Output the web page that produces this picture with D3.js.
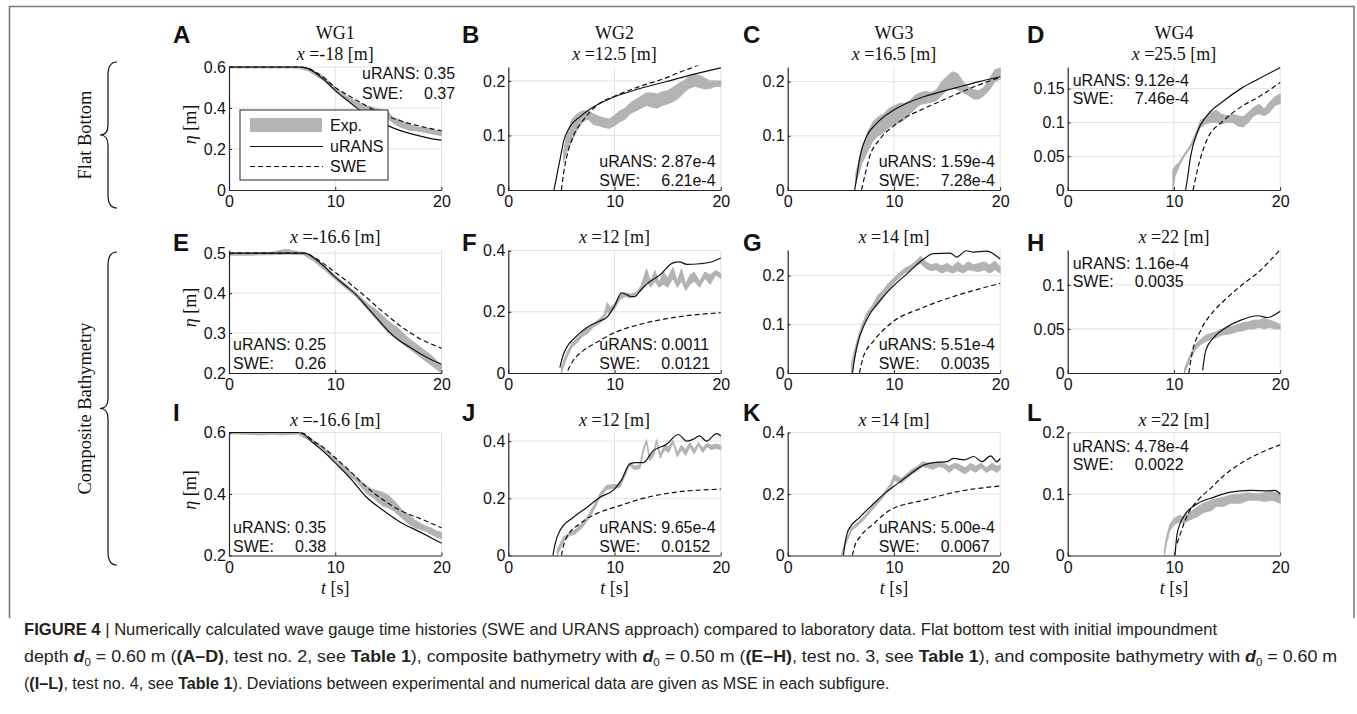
<!DOCTYPE html>
<html>
<head>
<meta charset="utf-8">
<script src="https://cdnjs.cloudflare.com/ajax/libs/d3/7.8.5/d3.min.js"></script>
<style>
  body { margin: 0; background: #fff; }
  svg { display: block; }
</style>
</head>
<body>
<svg width="1357" height="714"></svg>
<script>
// ---- values: [t, eta] for models, [t, low, high] for the lab band ----
const aUrans = [[0,0.6],[6.5,0.6],[7,0.598],[7.5,0.59],[8,0.576],[9,0.535],[10,0.486],[11,0.443],[12,0.402],[13,0.365],[14,0.337],[15,0.313],[16,0.292],[17,0.276],[18,0.263],[19,0.251],[20,0.243]];
const aSwe = [[0,0.6],[6.5,0.6],[7,0.598],[7.5,0.592],[8,0.58],[9,0.545],[10,0.5],[11,0.468],[12,0.438],[13,0.408],[14,0.381],[15,0.359],[16,0.34],[17,0.324],[18,0.311],[19,0.299],[20,0.289]];
const aExp = [[0,0.595,0.602],[6.5,0.595,0.602],[7.5,0.58,0.595],[9,0.53,0.55],[10,0.48,0.5],[11,0.44,0.46],[12,0.41,0.43],[12.5,0.39,0.42],[13,0.38,0.41],[13.5,0.375,0.405],[14,0.37,0.395],[14.5,0.355,0.39],[15,0.345,0.38],[15.5,0.325,0.35],[16,0.31,0.345],[16.5,0.3,0.33],[17,0.29,0.32],[17.5,0.29,0.31],[18,0.285,0.305],[18.5,0.28,0.3],[19,0.275,0.3],[19.5,0.27,0.29],[20,0.265,0.285]];

const bUrans = [[4.3,0],[4.6,0.03],[4.86,0.055],[5.23,0.091],[5.8,0.116],[6.74,0.134],[8,0.152],[10,0.171],[12.4,0.186],[14.9,0.199],[17.4,0.212],[20,0.224]];
const bSwe = [[5,0],[5.2,0.03],[5.5,0.061],[6.1,0.098],[7.05,0.128],[8.6,0.159],[10,0.172],[12.4,0.19],[14.9,0.206],[16,0.215],[17,0.222],[18,0.23]];
const bExp = [[5.2,0.05,0.07],[5.5,0.07,0.1],[6,0.09,0.13],[6.5,0.11,0.14],[7,0.125,0.145],[7.5,0.13,0.145],[8,0.12,0.14],[8.5,0.118,0.135],[9,0.115,0.132],[9.5,0.113,0.13],[10,0.118,0.137],[10.5,0.125,0.145],[11,0.13,0.15],[11.5,0.14,0.16],[12,0.145,0.166],[12.5,0.15,0.172],[13,0.155,0.178],[13.5,0.152,0.178],[14,0.15,0.176],[14.5,0.155,0.18],[15,0.158,0.182],[15.5,0.162,0.188],[16,0.168,0.195],[16.5,0.178,0.2],[17,0.186,0.208],[17.5,0.19,0.212],[18,0.188,0.21],[18.5,0.185,0.205],[19,0.186,0.2],[19.5,0.19,0.2],[20,0.19,0.2]];

const cUrans = [[6.3,0],[6.55,0.03],[6.8,0.061],[7.4,0.098],[8.37,0.123],[9.94,0.147],[11.2,0.16],[12.8,0.172],[15.9,0.189],[18,0.2],[20,0.209]];
const cSwe = [[6.95,0],[7.3,0.03],[7.7,0.061],[8.6,0.092],[9.9,0.117],[11.2,0.135],[12.8,0.15],[15.9,0.177],[18,0.194],[20,0.208]];
const cExp = [[6.4,0.01,0.03],[7,0.05,0.08],[7.5,0.07,0.105],[8,0.09,0.125],[8.5,0.1,0.135],[9,0.105,0.14],[9.5,0.115,0.15],[10,0.12,0.155],[10.5,0.125,0.16],[11,0.13,0.16],[11.5,0.14,0.165],[12,0.15,0.175],[12.5,0.158,0.18],[13,0.16,0.182],[13.5,0.162,0.18],[14,0.165,0.185],[14.5,0.175,0.2],[15,0.185,0.21],[15.5,0.19,0.218],[16,0.185,0.215],[16.5,0.18,0.2],[17,0.175,0.19],[17.5,0.168,0.185],[18,0.168,0.183],[18.5,0.175,0.19],[19,0.185,0.205],[19.5,0.2,0.222],[20,0.205,0.225]];

const dUrans = [[11.1,0],[11.3,0.02],[11.56,0.049],[12.2,0.086],[13.1,0.11],[14.7,0.132],[16.3,0.15],[17.9,0.164],[20,0.181]];
const dSwe = [[11.8,0],[12,0.015],[12.2,0.029],[13.1,0.074],[14.7,0.103],[16.3,0.123],[17.9,0.137],[20,0.159]];
const dExp = [[9.9,0,0.03],[10.1,0.02,0.035],[10.5,0.036,0.041],[11,0.05,0.054],[11.5,0.061,0.065],[12,0.076,0.082],[12.5,0.093,0.103],[13,0.098,0.108],[13.5,0.1,0.115],[14,0.1,0.118],[14.5,0.098,0.112],[15,0.1,0.11],[15.5,0.1,0.112],[16,0.095,0.11],[16.5,0.093,0.108],[17,0.1,0.115],[17.5,0.11,0.122],[18,0.113,0.127],[18.5,0.11,0.12],[19,0.115,0.13],[19.5,0.125,0.138],[20,0.128,0.142]];

const eUrans = [[0,0.5],[7,0.5],[7.5,0.497],[8,0.488],[9,0.466],[10,0.44],[11,0.418],[12,0.395],[13,0.365],[14,0.335],[15,0.305],[16,0.282],[17,0.265],[18,0.248],[19,0.234],[20,0.222]];
const eSwe = [[0,0.5],[7,0.5],[7.5,0.497],[8,0.49],[9,0.472],[10,0.452],[11,0.432],[12,0.41],[13,0.388],[14,0.364],[15,0.342],[16,0.32],[17,0.302],[18,0.285],[19,0.273],[20,0.262]];
const eExp = [[0,0.495,0.5],[1,0.495,0.5],[2,0.495,0.501],[3,0.496,0.502],[4,0.496,0.502],[5,0.497,0.508],[5.5,0.498,0.51],[6,0.497,0.506],[7,0.496,0.502],[8,0.48,0.49],[9,0.458,0.468],[10,0.434,0.444],[11,0.412,0.422],[12,0.39,0.4],[13,0.36,0.375],[14,0.33,0.355],[15,0.3,0.33],[16,0.28,0.31],[17,0.26,0.285],[18,0.24,0.265],[19,0.22,0.245],[20,0.2,0.22]];

const fUrans = [[4.85,0.018],[5.2,0.062],[5.6,0.09],[6.1,0.11],[7.4,0.149],[8.6,0.17],[9.25,0.181],[10,0.219],[10.66,0.262],[11.1,0.257],[11.5,0.25],[11.9,0.25],[12.4,0.268],[13,0.29],[14.26,0.32],[15.5,0.36],[16.1,0.363],[16.8,0.355],[18,0.357],[19,0.362],[20,0.376]];
const fSwe = [[5.6,0.008],[6.1,0.04],[7.05,0.073],[8.3,0.1],[10,0.132],[12.4,0.159],[15.5,0.181],[20,0.197]];
const fExp = [[5,0,0.02],[5.5,0.05,0.065],[6,0.085,0.1],[6.5,0.1,0.115],[7,0.12,0.135],[7.5,0.13,0.148],[8,0.15,0.16],[8.5,0.16,0.175],[9,0.175,0.19],[9.3,0.2,0.23],[9.6,0.195,0.215],[10,0.21,0.225],[10.5,0.24,0.255],[11,0.25,0.262],[11.5,0.245,0.258],[12,0.25,0.262],[12.5,0.27,0.285],[13,0.3,0.34],[13.4,0.28,0.3],[13.8,0.3,0.335],[14.2,0.28,0.295],[14.6,0.29,0.33],[15,0.28,0.31],[15.5,0.31,0.345],[15.9,0.28,0.3],[16.3,0.3,0.34],[16.7,0.27,0.29],[17.1,0.29,0.32],[17.5,0.3,0.33],[18,0.28,0.3],[18.5,0.31,0.33],[19,0.29,0.32],[19.5,0.32,0.335],[20,0.31,0.325]];

const gUrans = [[6.1,0],[6.3,0.03],[6.5,0.053],[7.4,0.108],[8.7,0.149],[10,0.18],[11.2,0.203],[12.8,0.234],[13.7,0.245],[15.3,0.246],[15.9,0.238],[16.8,0.251],[17.5,0.248],[18.7,0.25],[20,0.234]];
const gSwe = [[6.75,0],[7.1,0.032],[8.1,0.066],[9.6,0.1],[12.8,0.135],[15.9,0.159],[20,0.184]];
const gExp = [[6,0,0.02],[6.5,0.05,0.065],[7,0.09,0.1],[7.5,0.115,0.125],[8,0.13,0.14],[8.5,0.14,0.16],[9,0.155,0.17],[9.5,0.17,0.185],[10,0.185,0.195],[10.5,0.195,0.205],[11,0.205,0.215],[11.5,0.21,0.22],[12,0.22,0.228],[12.5,0.225,0.24],[13,0.215,0.228],[13.5,0.21,0.222],[14,0.212,0.225],[14.5,0.205,0.22],[15,0.21,0.225],[15.5,0.205,0.218],[16,0.21,0.228],[16.5,0.205,0.22],[17,0.212,0.228],[17.5,0.21,0.222],[18,0.208,0.225],[18.5,0.212,0.228],[19,0.205,0.222],[19.5,0.212,0.23],[20,0.205,0.218]];

const hUrans = [[12.7,0.003],[13,0.026],[13.8,0.041],[14.7,0.05],[16.3,0.06],[17.9,0.065],[18.8,0.063],[20,0.07]];
const hSwe = [[11.4,0],[11.7,0.022],[12.5,0.048],[13.8,0.071],[14.7,0.082],[16.3,0.099],[17.9,0.114],[20,0.14]];
const hExp = [[11,0,0.005],[11.5,0.015,0.02],[12,0.026,0.032],[12.5,0.032,0.038],[13,0.036,0.043],[13.5,0.038,0.045],[14,0.04,0.047],[14.5,0.043,0.05],[15,0.044,0.052],[15.5,0.045,0.053],[16,0.047,0.055],[16.5,0.048,0.057],[17,0.05,0.058],[17.5,0.05,0.06],[18,0.052,0.06],[18.5,0.05,0.062],[19,0.052,0.06],[19.5,0.05,0.058],[20,0.05,0.055]];

const iUrans = [[0,0.6],[6.5,0.6],[7,0.595],[7.9,0.567],[9,0.535],[10,0.501],[11.4,0.452],[12.9,0.391],[14.5,0.347],[16.1,0.309],[18,0.276],[20,0.24]];
const iSwe = [[0,0.6],[6.5,0.6],[7,0.597],[7.9,0.573],[9,0.548],[10,0.518],[11.4,0.474],[12.9,0.424],[14.5,0.381],[16.1,0.347],[18,0.32],[20,0.29]];
const iExp = [[0,0.596,0.6],[2,0.594,0.6],[3,0.592,0.6],[4,0.594,0.6],[5,0.592,0.6],[6,0.594,0.6],[6.5,0.595,0.6],[7.5,0.575,0.585],[8.5,0.55,0.562],[10,0.505,0.515],[11,0.47,0.485],[12,0.44,0.455],[12.5,0.42,0.44],[13,0.4,0.425],[13.5,0.39,0.415],[14,0.375,0.41],[14.5,0.36,0.405],[15,0.355,0.395],[15.5,0.345,0.38],[16,0.33,0.36],[16.5,0.315,0.34],[17,0.3,0.33],[17.5,0.29,0.315],[18,0.285,0.305],[18.5,0.28,0.295],[19,0.27,0.29],[19.5,0.26,0.28],[20,0.255,0.275]];

const jUrans = [[4.2,0],[4.4,0.04],[4.86,0.087],[6.1,0.133],[7.4,0.168],[8.6,0.203],[10,0.232],[10.7,0.267],[11.4,0.319],[11.9,0.325],[12.7,0.325],[13.6,0.365],[14.9,0.389],[16,0.423],[16.8,0.4],[17.4,0.406],[18,0.418],[18.65,0.4],[19.6,0.426],[20,0.418]];
const jSwe = [[5,0],[5.2,0.035],[5.5,0.064],[6.7,0.11],[8.6,0.151],[10,0.168],[12.4,0.197],[15.5,0.22],[20,0.232]];
const jExp = [[4.6,0,0.02],[5.2,0.05,0.065],[5.8,0.07,0.08],[6.3,0.075,0.09],[7,0.1,0.115],[7.6,0.13,0.145],[8.2,0.17,0.185],[8.6,0.2,0.215],[9.25,0.232,0.245],[10,0.235,0.248],[10.5,0.238,0.25],[11,0.28,0.295],[11.4,0.315,0.325],[11.9,0.3,0.312],[12.4,0.305,0.318],[12.7,0.36,0.375],[13,0.398,0.405],[13.3,0.33,0.345],[13.7,0.35,0.365],[13.95,0.395,0.405],[14.3,0.34,0.355],[14.7,0.37,0.385],[15.1,0.36,0.38],[15.5,0.395,0.402],[15.9,0.345,0.36],[16.3,0.37,0.385],[16.7,0.35,0.37],[17.1,0.38,0.395],[17.5,0.355,0.37],[17.9,0.385,0.395],[18.3,0.36,0.375],[18.7,0.38,0.392],[19.1,0.37,0.385],[19.5,0.375,0.39],[20,0.37,0.385]];

const kUrans = [[5.24,0],[5.4,0.04],[5.7,0.082],[6.8,0.125],[8.1,0.169],[9.3,0.207],[10,0.225],[11.2,0.256],[12.8,0.294],[13.7,0.302],[15,0.305],[15.6,0.316],[16.6,0.311],[17.5,0.322],[18.3,0.305],[19.1,0.324],[19.7,0.305],[20,0.316]];
const kSwe = [[6.09,0],[6.3,0.03],[6.8,0.06],[8.1,0.104],[9.6,0.147],[12.8,0.18],[15.9,0.207],[20,0.226]];
const kExp = [[5.1,0,0.01],[5.5,0.04,0.05],[6,0.08,0.09],[7,0.11,0.12],[8,0.15,0.16],[9,0.19,0.2],[9.7,0.22,0.235],[10,0.245,0.262],[10.3,0.24,0.258],[10.7,0.235,0.25],[11.2,0.25,0.265],[11.7,0.265,0.28],[12.2,0.275,0.29],[12.7,0.29,0.305],[13.2,0.285,0.3],[13.7,0.28,0.3],[14.2,0.29,0.305],[14.7,0.285,0.3],[15.2,0.27,0.29],[15.7,0.285,0.3],[16.2,0.275,0.295],[16.7,0.265,0.285],[17.2,0.28,0.3],[17.7,0.27,0.29],[18.2,0.285,0.3],[18.7,0.27,0.285],[19.2,0.28,0.3],[19.7,0.27,0.29],[20,0.28,0.295]];

const lUrans = [[10.1,0],[10.3,0.035],[10.9,0.063],[12.2,0.084],[13.8,0.095],[15.3,0.103],[17.2,0.106],[18.8,0.105],[19.5,0.106],[20,0.1]];
const lSwe = [[10.3,0.02],[10.5,0.03],[10.9,0.05],[11.4,0.07],[12.2,0.089],[13.5,0.11],[14.7,0.13],[16.3,0.15],[17.9,0.165],[20,0.18]];
const lExp = [[9.1,0,0.01],[9.3,0.02,0.03],[9.6,0.04,0.05],[10,0.05,0.06],[10.5,0.055,0.065],[10.9,0.052,0.063],[11.5,0.058,0.07],[12.2,0.063,0.079],[12.8,0.07,0.085],[13.5,0.073,0.09],[14,0.08,0.092],[14.7,0.08,0.095],[15.3,0.085,0.098],[16.3,0.085,0.1],[17,0.09,0.102],[17.9,0.09,0.1],[18.5,0.088,0.102],[19.2,0.09,0.104],[20,0.085,0.1]];

// axis ranges and tick labels
const xTicks = [0, 10, 20];
const yDomains = [[0,0.6],[0,0.2255],[0,0.227],[0,0.182],[0.2,0.508],[0,0.402],[0,0.2525],[0,0.1396],[0.2,0.6],[0,0.43],[0,0.4],[0,0.2]];
const yTickSets = [[0,0.2,0.4,0.6],[0,0.1,0.2],[0,0.1,0.2],[0,0.05,0.1,0.15],[0.2,0.3,0.4,0.5],[0,0.2,0.4],[0,0.1,0.2],[0,0.05,0.1],[0.2,0.4,0.6],[0,0.2,0.4],[0,0.2,0.4],[0,0.1,0.2]];

const letters = ["A","B","C","D","E","F","G","H","I","J","K","L"];
const gauges = ["WG1","WG2","WG3","WG4"];
const gaugeX = ["-18","12.5","16.5","25.5","-16.6","12","14","22","-16.6","12","14","22"];
const mseRans = ["0.35","2.87e-4","1.59e-4","9.12e-4","0.25","0.0011","5.51e-4","1.16e-4","0.35","9.65e-4","5.00e-4","4.78e-4"];
const mseSwe = ["0.37","6.21e-4","7.28e-4","7.46e-4","0.26","0.0121","0.0035","0.0035","0.38","0.0152","0.0067","0.0022"];
const rowNames = ["Flat Bottom", "Composite Bathymetry"];

const ransSets = [aUrans,bUrans,cUrans,dUrans,eUrans,fUrans,gUrans,hUrans,iUrans,jUrans,kUrans,lUrans];
const sweSets = [aSwe,bSwe,cSwe,dSwe,eSwe,fSwe,gSwe,hSwe,iSwe,jSwe,kSwe,lSwe];
const expSets = [aExp,bExp,cExp,dExp,eExp,fExp,gExp,hExp,iExp,jExp,kExp,lExp];

// ---- layout ----
const colLeft = [229, 508.3, 787.7, 1067.7];
const axW = 212.5;
const rowTop = [67, 250, 432.5];
const axH = 123;
const letterX = [173, 462, 743, 1027];
const letterBase = [43, 251, 421];
// where the MSE note sits: dx from left, first/second baseline from top
const msePlace = ["tr","br","br","tl","bl","br","br","tl","bl","br","br","tl"];
const mseOffsets = { tr:[133,12,31.5], br:[91,100,119], tl:[5,19,37], bl:[4,100,119] };

const sans = '"Liberation Sans", Arial, Helvetica, sans-serif';
const serif = '"Liberation Serif", "Times New Roman", Times, serif';
const axisColor = "#262626";
const expColor = "#b3b3b3";
const fmt = d3.format("~g");

const svg = d3.select("svg");

// outer frame (no bottom edge visible)
svg.append("path")
  .attr("d", "M9.5,618V6.5H1354V618")
  .attr("fill", "none")
  .attr("stroke", "#7a7a7a")
  .attr("stroke-width", 1.6);

letters.forEach((letter, i) => {
  const col = i % 4, row = Math.floor(i / 4);
  const left = colLeft[col], top = rowTop[row];
  const x = d3.scaleLinear().domain([0, 20]).range([left, left + axW]);
  const y = d3.scaleLinear().domain(yDomains[i]).range([top + axH, top]);
  const g = svg.append("g");

  // grid
  g.selectAll(".gx").data(xTicks.slice(1)).join("line")
    .attr("x1", d => x(d)).attr("x2", d => x(d))
    .attr("y1", top).attr("y2", top + axH)
    .attr("stroke", "#e2e2e2").attr("stroke-width", 1);
  g.selectAll(".gy").data(yTickSets[i].filter(v => v > yDomains[i][0])).join("line")
    .attr("x1", left).attr("x2", left + axW)
    .attr("y1", d => y(d)).attr("y2", d => y(d))
    .attr("stroke", "#e2e2e2").attr("stroke-width", 1);

  const clipId = "clip" + i;
  svg.append("clipPath").attr("id", clipId).append("rect")
    .attr("x", left).attr("y", top - 1.5).attr("width", axW + 1.5).attr("height", axH + 1.5);
  const plot = g.append("g").attr("clip-path", `url(#${clipId})`);

  const area = d3.area().x(d => x(d[0])).y0(d => y(d[1])).y1(d => y(d[2]));
  const line = d3.line().x(d => x(d[0])).y(d => y(d[1])).curve(d3.curveMonotoneX);

  plot.append("path").datum(expSets[i])
    .attr("d", area)
    .attr("fill", expColor).attr("stroke", expColor).attr("stroke-width", 1);
  plot.append("path").datum(sweSets[i])
    .attr("d", line)
    .attr("fill", "none").attr("stroke", "#111").attr("stroke-width", 1.2)
    .attr("stroke-dasharray", "5,3");
  plot.append("path").datum(ransSets[i])
    .attr("d", line)
    .attr("fill", "none").attr("stroke", "#111").attr("stroke-width", 1.2);

  // axes (box off, inward ticks)
  const xAxis = g.append("g").attr("transform", `translate(0,${top + axH})`)
    .call(d3.axisBottom(x).tickValues(xTicks).tickSize(-3).tickSizeOuter(0).tickPadding(6));
  const yAxis = g.append("g").attr("transform", `translate(${left},0)`)
    .call(d3.axisLeft(y).tickValues(yTickSets[i]).tickFormat(fmt).tickSize(-3).tickSizeOuter(0).tickPadding(3));
  [xAxis, yAxis].forEach(ax => {
    ax.attr("font-size", 16).attr("font-family", sans);
    ax.select(".domain").attr("stroke", axisColor).attr("stroke-width", 1.2);
    ax.selectAll(".tick line").attr("stroke", axisColor);
    ax.selectAll(".tick text").attr("fill", "#111");
  });

  // titles
  if (row === 0) {
    svg.append("text").attr("x", left + axW / 2).attr("y", top - 28)
      .attr("text-anchor", "middle").attr("font-family", serif).attr("font-size", 18)
      .attr("fill", "#111").text(gauges[col]);
  }
  const tt = svg.append("text").attr("x", left + axW / 2).attr("y", top - 7)
    .attr("text-anchor", "middle").attr("font-family", serif).attr("font-size", 18).attr("fill", "#111");
  tt.append("tspan").attr("font-style", "italic").text("x");
  tt.append("tspan").text(" =" + gaugeX[i] + " [m]");

  // panel letter
  svg.append("text").attr("x", letterX[col]).attr("y", letterBase[row])
    .attr("font-family", sans).attr("font-weight", "bold").attr("font-size", 24)
    .attr("fill", "#111").text(letter);

  // MSE note
  const [dx, dy1, dy2] = mseOffsets[msePlace[i]];
  const note = svg.append("g").attr("font-family", sans).attr("font-size", 16).attr("fill", "#111");
  const t1 = note.append("text").attr("x", left + dx).attr("y", top + dy1);
  t1.append("tspan").text("uRANS:");
  t1.append("tspan").attr("x", left + dx + 62).text(mseRans[i]);
  const t2 = note.append("text").attr("x", left + dx).attr("y", top + dy2);
  t2.append("tspan").text("SWE:");
  t2.append("tspan").attr("x", left + dx + 62).text(mseSwe[i]);

  // y label on first column, x label on last row
  if (col === 0) {
    const yl = svg.append("text")
      .attr("transform", `translate(196,${top + axH / 2 - 4}) rotate(-90)`)
      .attr("text-anchor", "middle").attr("font-family", serif).attr("font-size", 18).attr("fill", "#111");
    yl.append("tspan").attr("font-style", "italic").text("η");
    yl.append("tspan").text(" [m]");
  }
  if (row === 2) {
    const xl = svg.append("text").attr("x", left + axW / 2).attr("y", 594)
      .attr("text-anchor", "middle").attr("font-family", serif).attr("font-size", 18).attr("fill", "#111");
    xl.append("tspan").attr("font-style", "italic").text("t");
    xl.append("tspan").text(" [s]");
  }

  // legend in panel A
  if (i === 0) {
    const lg = svg.append("g");
    lg.append("rect").attr("x", 240).attr("y", 110).attr("width", 148).attr("height", 70)
      .attr("fill", "#fff").attr("stroke", axisColor).attr("stroke-width", 1);
    lg.append("rect").attr("x", 250).attr("y", 118).attr("width", 72).attr("height", 14).attr("fill", expColor);
    lg.append("line").attr("x1", 250).attr("x2", 323).attr("y1", 146.5).attr("y2", 146.5)
      .attr("stroke", "#111").attr("stroke-width", 1.2);
    lg.append("line").attr("x1", 250).attr("x2", 323).attr("y1", 166.5).attr("y2", 166.5)
      .attr("stroke", "#111").attr("stroke-width", 1.2).attr("stroke-dasharray", "5,3");
    [["Exp.", 131], ["uRANS", 152], ["SWE", 172]].forEach(([s, yy]) => {
      lg.append("text").attr("x", 330).attr("y", yy).attr("font-family", sans)
        .attr("font-size", 16).attr("fill", "#111").text(s);
    });
  }
});

// row braces and labels
const braces = [[62, 208], [252, 565]];
braces.forEach(([y0, y1], k) => {
  const m = (y0 + y1) / 2;
  svg.append("path")
    .attr("d", `M117,${y0} Q108,${y0} 108,${y0 + 13} L108,${m - 10} Q108,${m} 100,${m} Q108,${m} 108,${m + 10} L108,${y1 - 13} Q108,${y1} 117,${y1}`)
    .attr("fill", "none").attr("stroke", "#111").attr("stroke-width", 1.2);
  svg.append("text")
    .attr("transform", `translate(91,${m}) rotate(-90)`)
    .attr("text-anchor", "middle").attr("font-family", serif).attr("font-size", 18.5)
    .attr("fill", "#111").text(rowNames[k]);
});

// caption
const captionLines = [
  [["FIGURE 4", "b"], [" | ", ""], ["Numerically calculated wave gauge time histories (SWE and URANS approach) compared to laboratory data. Flat bottom test with initial impoundment", ""]],
  [["depth ", ""], ["d", "bi"], ["0", "sub"], [" = 0.60 m (", ""], ["(A–D)", "b"], [", test no. 2, see ", ""], ["Table 1", "b"], ["), composite bathymetry with ", ""], ["d", "bi"], ["0", "sub"], [" = 0.50 m (", ""], ["(E–H)", "b"], [", test no. 3, see ", ""], ["Table 1", "b"], ["), and composite bathymetry with ", ""], ["d", "bi"], ["0", "sub"], [" = 0.60 m", ""]],
  [["(", ""], ["(I–L)", "b"], [", test no. 4, see ", ""], ["Table 1", "b"], ["). Deviations between experimental and numerical data are given as MSE in each subfigure.", ""]]
];
const captionWidths = [1194, 1314, 866];
const captionBase = [635, 662, 689];
captionLines.forEach((parts, k) => {
  const cg = svg.append("g");
  const ct = cg.append("text").attr("x", 0).attr("y", 0)
    .attr("font-family", '"Liberation Sans Narrow", "Liberation Sans", Arial, sans-serif')
    .attr("font-size", 17).attr("fill", "#231f20");
  parts.forEach(([s, st], j) => {
    const sp = ct.append("tspan").text(s);
    if (st === "b") sp.attr("font-weight", "bold");
    if (st === "bi") sp.attr("font-weight", "bold").attr("font-style", "italic");
    if (st === "sub") sp.attr("font-size", 11).attr("dy", 4);
    if (j > 0 && parts[j - 1][1] === "sub") sp.attr("dy", -4);
  });
  const w = ct.node().getComputedTextLength();
  cg.attr("transform", `translate(24,${captionBase[k]}) scale(${captionWidths[k] / w},1)`);
});
</script>
</body>
</html>
